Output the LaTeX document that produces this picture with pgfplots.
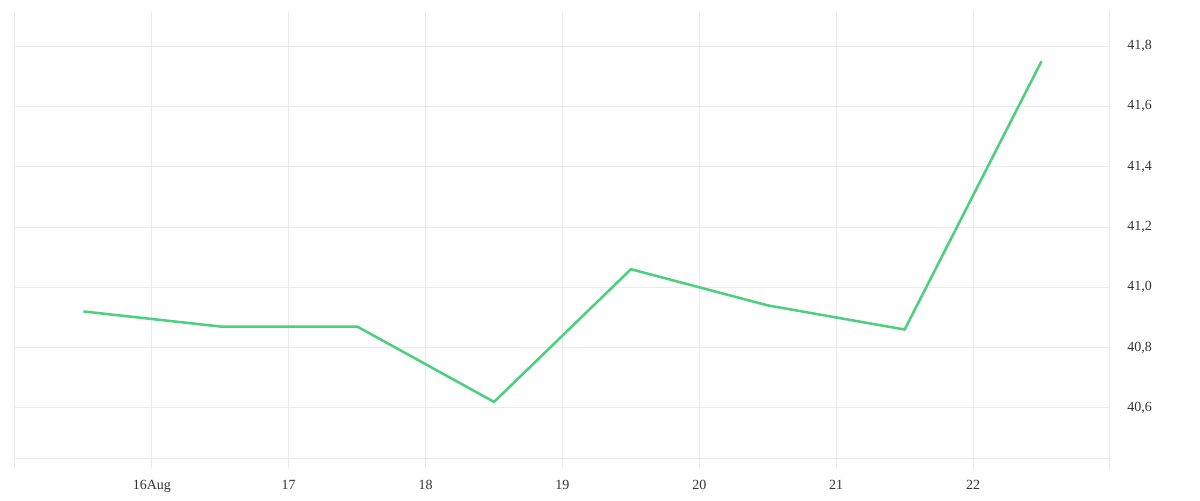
\documentclass[border=0pt]{standalone}
\usepackage{pgfplots}
\pgfplotsset{compat=1.18}
\usepackage{fontspec}
\setmainfont{Liberation Serif}
\definecolor{gridc}{HTML}{EBEBEB}
\definecolor{linec}{HTML}{4DD07D}
\definecolor{txt}{HTML}{333333}
\begin{document}
\begin{tikzpicture}[x=0.75pt,y=0.75pt]
\useasboundingbox (-15,-42) rectangle (1185,458);
\begin{axis}[
  at={(0,0)}, anchor=south west,
  scale only axis,
  width=821.25pt, height=334.5pt,
  xmin=15, xmax=23, ymin=40.434, ymax=41.913,
  axis line style={draw=none},
  xtick={16,17,18,19,20,21,22},
  xticklabels={16Aug,17,18,19,20,21,22},
  extra x ticks={15,23},
  extra x tick labels={},
  extra x tick style={grid=major},
  extra y ticks={40.434},
  extra y tick labels={},
  extra y tick style={grid=major},
  ytick={40.6,40.8,41.0,41.2,41.4,41.6,41.8},
  yticklabel pos=right,
  xtick pos=bottom,
  tick align=outside,
  major tick length=7.5pt,
  every tick/.style={gridc, line width=0.75pt},
  ytick style={draw=none},
  grid=major,
  major grid style={gridc, line width=0.75pt},
  /pgf/number format/.cd, use comma, fixed, fixed zerofill, precision=1, assume math mode=true,
  /pgfplots/.cd,
  ticklabel style={font=\fontsize{10.5}{12}\selectfont, text=txt},
  yticklabel style={anchor=west, xshift=2pt},
  xticklabel style={yshift=-5.5pt},
  clip=false,
]
\addplot[linec, line width=1.9pt, line join=round] coordinates {
 (15.5,40.92) (16.5,40.87) (17.5,40.87) (18.5,40.62) (19.5,41.06) (20.5,40.94) (21.5,40.86) (22.5,41.75)
};
\end{axis}
\end{tikzpicture}
\end{document}
